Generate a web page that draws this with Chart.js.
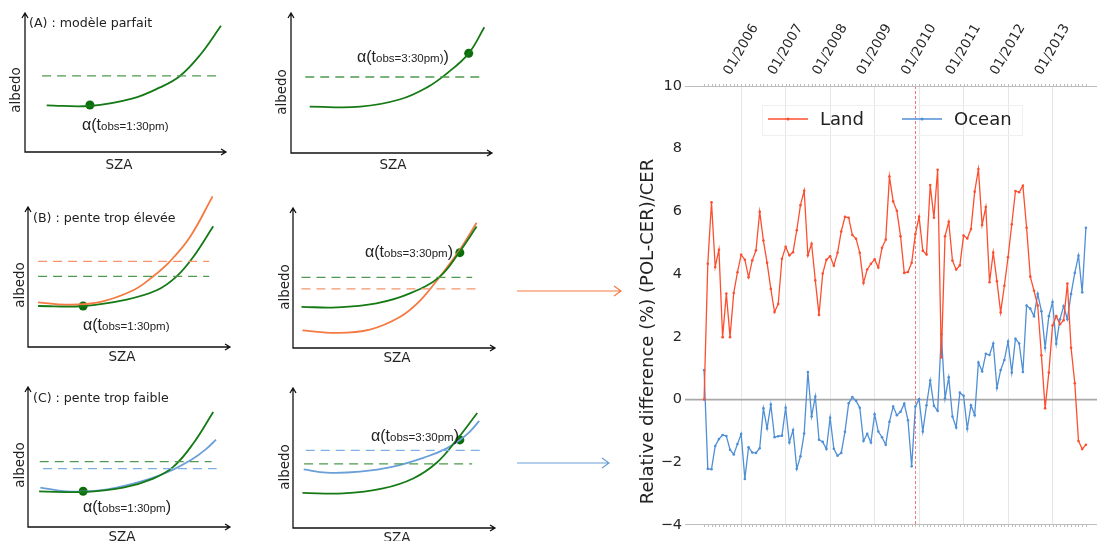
<!DOCTYPE html>
<html>
<head>
<meta charset="utf-8">
<script src="https://cdn.jsdelivr.net/npm/chart.js@4.4.0/dist/chart.umd.min.js"></script>
<style>
  body { margin:0; width:1097px; height:541px; overflow:hidden; background:#fff; position:relative; font-family:"DejaVu Sans", sans-serif; }
  canvas { position:absolute; }
  .t { position:absolute; white-space:nowrap; color:#222; line-height:1; }
  .ttl { font-size:12.6px; transform:translateY(-50%); }
  .ax { font-size:13.5px; transform:translate(-50%,-50%); }
  .rot { transform:translate(-50%,-50%) rotate(-90deg); }
  .al { font-family:"Liberation Sans", Arial, sans-serif; transform:translateY(-50%); }
  .al .b { font-size:16px; }
  .al .s { font-size:11.5px; }
  svg { position:absolute; left:0; top:0; }
</style>
</head>
<body>
<canvas id="pA1"></canvas><canvas id="pA2"></canvas>
<canvas id="pB1"></canvas><canvas id="pB2"></canvas>
<canvas id="pC1"></canvas><canvas id="pC2"></canvas>
<canvas id="main" width="480" height="541" style="left:630px;top:0"></canvas>

<div class="t ttl" style="left:29px;top:23px">(A) : modèle parfait</div>
<div class="t ttl" style="left:33px;top:218px">(B) : pente trop élevée</div>
<div class="t ttl" style="left:33px;top:398px">(C) : pente trop faible</div>

<div class="t ax rot" style="left:16px;top:90px">albedo</div>
<div class="t ax rot" style="left:282px;top:92px">albedo</div>
<div class="t ax rot" style="left:20px;top:285px">albedo</div>
<div class="t ax rot" style="left:285px;top:287px">albedo</div>
<div class="t ax rot" style="left:20px;top:465px">albedo</div>
<div class="t ax rot" style="left:285px;top:467px">albedo</div>

<div class="t ax" style="left:119px;top:165px">SZA</div>
<div class="t ax" style="left:393px;top:165px">SZA</div>
<div class="t ax" style="left:122px;top:357px">SZA</div>
<div class="t ax" style="left:397px;top:358px">SZA</div>
<div class="t ax" style="left:122px;top:537px">SZA</div>
<div class="t ax" style="left:397px;top:538px">SZA</div>

<div class="t al" style="left:82px;top:125px"><span class="b">α(t</span><span class="s">obs=1:30pm)</span></div>
<div class="t al" style="left:357px;top:57px"><span class="b">α(t</span><span class="s">obs=3:30pm)</span><span class="b">)</span></div>
<div class="t al" style="left:83px;top:325px"><span class="b">α(t</span><span class="s">obs=1:30pm)</span></div>
<div class="t al" style="left:365px;top:252px"><span class="b">α(t</span><span class="s">obs=3:30pm</span><span class="b">)</span></div>
<div class="t al" style="left:83px;top:507px"><span class="b">α(t</span><span class="s">obs=1:30pm</span><span class="b">)</span></div>
<div class="t al" style="left:371px;top:436px"><span class="b">α(t</span><span class="s">obs=3:30pm</span><span class="b">)</span></div>

<svg width="1097" height="541">
  <g fill="none" stroke-width="1.2">
    <path d="M517 291 H621 M614 286 L621 291 L614 296" stroke="#f47a42"/>
    <path d="M517 463 H609 M602 458 L609 463 L602 468" stroke="#6a9fd8"/>
  </g>
</svg>

<script>
// ---- main chart data (monthly, March 2005 -> October 2013) ----
var startYear = 2005, startMonth = 3;
var land = [0, 4.33, 6.29, 4.23, 4.78, 1.99, 3.38, 1.99, 3.40, 4.06,
  4.62, 4.46, 3.90, 4.44, 4.76, 5.99, 5.07, 4.36, 3.53, 2.79,
  3.05, 4.49, 4.87, 4.60, 4.70, 5.40, 6.20, 6.66, 4.60, 4.97,
  3.80, 2.70, 4.02, 4.46, 4.57, 4.27, 4.68, 5.36, 5.83, 5.80,
  5.25, 5.13, 4.68, 3.72, 4.15, 4.33, 4.47, 4.21, 4.84, 5.10,
  7.11, 6.32, 6.02, 5.21, 4.04, 4.07, 4.36, 5.28, 5.83, 4.75,
  4.63, 6.84, 5.80, 7.33, 1.34, 5.21, 5.67, 4.43, 4.15, 4.28,
  5.23, 5.14, 5.44, 6.63, 7.35, 5.57, 6.14, 3.74, 4.69, 3.77,
  2.78, 3.63, 4.54, 5.59, 6.65, 6.61, 6.82, 5.48, 3.92, 3.47,
  3.00, 1.41, -0.28, 0.86, 2.36, 2.66, 2.40, 2.53, 3.70, 1.65,
  0.52, -1.32, -1.58, -1.44];
var ocean = [0.94, -2.21, -2.22, -1.48, -1.26, -1.13, -1.16, -1.60, -1.75, -1.42,
  -1.10, -2.53, -1.52, -1.69, -1.70, -1.55, -0.28, -0.92, -0.16, -1.20,
  -1.17, -1.15, -0.26, -1.37, -0.97, -2.21, -1.81, -1.08, 0.88, -0.54,
  0.10, -1.28, -1.35, -1.58, -0.58, -1.57, -1.79, -1.70, -1.03, -0.12,
  0.08, -0.04, -0.26, -1.32, -1.09, -1.37, -0.47, -1.02, -1.20, -1.44,
  -0.71, -0.22, -0.50, -0.39, -0.13, -0.66, -2.13, -0.22, 0.01, -1.02,
  -0.18, 0.61, -0.20, -0.36, 2.08, 0.04, 0.71, -0.54, -0.89, 0.22,
  0.12, -0.93, -0.18, -0.50, 1.18, 0.90, 1.46, 1.42, 1.79, 0.37,
  0.94, 1.26, 1.85, 0.86, 1.94, 1.79, 0.88, 3.00, 2.90, 2.66,
  3.37, 2.82, 1.65, 2.66, 3.11, 1.78, 2.56, 2.98, 2.56, 3.37,
  4.04, 4.59, 3.42, 5.48];
var tickLabels = ['01/2006', '01/2007', '01/2008', '01/2009', '01/2010', '01/2011', '01/2012', '01/2013'];
var yTicks = [-4, -2, 0, 2, 4, 6, 8, 10];
var markerMonth = '12/2009';
var seriesNames = ['Land', 'Ocean'];
var yTitle = 'Relative difference (%) (POL-CER)/CER';

// ---- schematic panels: [SZA, albedo] in 0-100 axis units ----
var a1Green = [[10.8,33.6],[32.3,33.1],[53.7,38.6],[67.2,46.5],[77.1,54.7],[87.1,69.8],[97.5,90.8]];
var a1Mean = [[8.5,54.7],[97,54.7]];
var a1Dot = [[32.3,33.8]];
var a2Green = [[9.3,33.1],[34.5,33.1],[54.4,38.4],[67.7,46.9],[77.6,56.9],[88.4,71.2],[96.2,89.8]];
var a2Mean = [[7.1,54.3],[95.5,54.3]];
var a2Dot = [[88.4,71.2]];
var b1Green = [[5,29.3],[27.3,29.3],[48.8,33.9],[63.7,40.5],[73.6,50.5],[81.8,64.3],[91.7,86.2]];
var b1Orange = [[5,31.9],[19,30.3],[35.5,32.1],[52.1,40.5],[62,50.5],[70.3,61.2],[80.2,78.6],[91.4,107.6]];
var b1GreenMean = [[5,50.5],[89.7,50.5]];
var b1OrangeMean = [[5,61.2],[89.7,61.2]];
var b1Dot = [[27.3,29.3]];
var b2Green = [[4.2,29.4],[21.5,29],[41.3,31.9],[57.9,39],[72.7,51],[82.6,69],[90.9,86.8]];
var b2Orange = [[4.7,12.6],[21.5,10.8],[38,13.2],[52.9,22.2],[62.8,33.7],[72.7,51],[82.6,70.2],[90.9,89.4]];
var b2GreenMean = [[4.2,50.5],[88.7,50.5]];
var b2OrangeMean = [[4.2,42.3],[90.9,42.3]];
var b2Dot = [[82.6,68.1]];
var c1Green = [[5.5,25.5],[27.3,25],[47.1,28.1],[62,34.6],[71.9,42.9],[81.8,59.6],[91.7,82.1]];
var c1Blue = [[6.1,28.1],[19,25.5],[35.5,26.2],[52.1,31],[68.6,38.9],[81.8,48.9],[88.4,56],[93.1,62.4]];
var c1GreenMean = [[5.8,46.7],[90.9,46.7]];
var c1BlueMean = [[7.4,41.7],[93.4,41.7]];
var c1Dot = [[27.3,25.5]];
var c2Green = [[4.7,25.1],[24.8,24.7],[44.6,28.3],[59.5,35.4],[71.1,46.6],[81,62.9],[91.2,82.1]];
var c2Blue = [[5.3,41.9],[16.6,39.5],[33.1,40.2],[49.6,43.8],[66.1,50.9],[76.1,56.9],[82.6,62.9],[87.6,68.9],[92.2,76.5]];
var c2GreenMean = [[5.5,45.8],[88.7,45.8]];
var c2BlueMean = [[6.3,55.4],[92.6,55.4]];
var c2Dot = [[82.6,62.9]];

var GREEN = '#157a15', GREEN_D = '#4f9a4f', ORANGE = '#f47a42', ORANGE_D = '#f4956c', BLUE = '#6a9fd8', BLUE_D = '#7eaee2';
var LAND_C = '#fc4f30', OCEAN_C = '#4f8fd6';

Chart.defaults.font.family = '"DejaVu Sans", sans-serif';

function pts(a) { return a.map(function(p){ return {x:p[0], y:p[1]}; }); }
function curve(a, col) { return {data:pts(a), showLine:true, borderColor:col, borderWidth:1.8, pointRadius:0, tension:0.4, clip:false}; }
function mean(a, col) { return {data:pts(a), showLine:true, borderColor:col, borderWidth:1.3, borderDash:[9,6], pointRadius:0, clip:false}; }
function dot(a) { return {data:pts(a), pointRadius:4.5, pointBackgroundColor:'#0b6e0b', pointBorderWidth:0, clip:false}; }

var arrowAxes = {
  id: 'arrowAxes',
  beforeDatasetsDraw: function(c) {
    var ctx = c.ctx, sx = c.scales.x, sy = c.scales.y;
    var x0 = sx.getPixelForValue(0), x1 = sx.getPixelForValue(100);
    var y0 = sy.getPixelForValue(0), y1 = sy.getPixelForValue(100);
    ctx.save();
    ctx.strokeStyle = '#111'; ctx.lineWidth = 1.3;
    ctx.beginPath();
    ctx.moveTo(x0, y1); ctx.lineTo(x0, y0); ctx.lineTo(x1, y0);
    ctx.moveTo(x0 - 3, y1 + 5); ctx.lineTo(x0, y1); ctx.lineTo(x0 + 3, y1 + 5);
    ctx.moveTo(x1 - 5, y0 - 3); ctx.lineTo(x1, y0); ctx.lineTo(x1 - 5, y0 + 3);
    ctx.stroke();
    ctx.restore();
  }
};

function panel(id, x0, x1, yt, yb, sets) {
  var el = document.getElementById(id), pad = 20;
  el.width = x1 - x0 + 2 * pad; el.height = yb - yt + 2 * pad;
  el.style.left = (x0 - pad) + 'px'; el.style.top = (yt - pad) + 'px';
  new Chart(el, {
    type: 'scatter',
    data: { datasets: sets },
    options: {
      responsive: false, animation: false, events: [],
      layout: { padding: pad },
      plugins: { legend: {display:false}, tooltip: {enabled:false} },
      scales: {
        x: { type:'linear', min:0, max:100, display:false },
        y: { type:'linear', min:0, max:100, display:false }
      }
    },
    plugins: [arrowAxes]
  });
}

panel('pA1', 25, 226, 13, 152, [mean(a1Mean, GREEN_D), curve(a1Green, GREEN), dot(a1Dot)]);
panel('pA2', 291, 492, 13, 153, [mean(a2Mean, GREEN_D), curve(a2Green, GREEN), dot(a2Dot)]);
panel('pB1', 28, 230, 207, 347, [mean(b1OrangeMean, ORANGE_D), mean(b1GreenMean, GREEN_D), curve(b1Orange, ORANGE), curve(b1Green, GREEN), dot(b1Dot)]);
panel('pB2', 293, 495, 208, 348, [mean(b2GreenMean, GREEN_D), mean(b2OrangeMean, ORANGE_D), curve(b2Green, GREEN), curve(b2Orange, ORANGE), dot(b2Dot)]);
panel('pC1', 28, 230, 387, 527, [mean(c1GreenMean, GREEN_D), mean(c1BlueMean, BLUE_D), curve(c1Green, GREEN), curve(c1Blue, BLUE), dot(c1Dot)]);
panel('pC2', 293, 495, 388, 528, [mean(c2BlueMean, BLUE_D), mean(c2GreenMean, GREEN_D), curve(c2Green, GREEN), curve(c2Blue, BLUE), dot(c2Dot)]);

// ---- main chart ----
function monthIndex(label) {
  var p = label.split('/');
  return (parseInt(p[1], 10) - startYear) * 12 + parseInt(p[0], 10) - startMonth;
}
var yearIdx = tickLabels.map(monthIndex);
var n = land.length;
var xMin = -0.05 * (n - 1), xMax = (n - 1) * 1.05;

var frame = {
  id: 'frame',
  beforeDatasetsDraw: function(c) {
    var ctx = c.ctx, a = c.chartArea, sx = c.scales.x, sy = c.scales.y;
    ctx.save();
    // marker line
    var mx = Math.round(sx.getPixelForValue(monthIndex(markerMonth))) + 0.5;
    ctx.strokeStyle = '#f07878'; ctx.lineWidth = 1; ctx.setLineDash([3, 2]);
    ctx.beginPath(); ctx.moveTo(mx, a.top); ctx.lineTo(mx, a.bottom); ctx.stroke();
    ctx.setLineDash([]);
    // top and bottom spines with monthly minor ticks
    ctx.strokeStyle = '#bdbdbd'; ctx.lineWidth = 1;
    ctx.beginPath();
    ctx.moveTo(a.left, a.top + 0.5); ctx.lineTo(a.right, a.top + 0.5);
    ctx.moveTo(a.left, a.bottom - 0.5); ctx.lineTo(a.right, a.bottom - 0.5);
    for (var i = 0; i < n; i++) {
      var px = Math.round(sx.getPixelForValue(i)) + 0.5;
      ctx.moveTo(px, a.top - 2); ctx.lineTo(px, a.top + 0.5);
      ctx.moveTo(px, a.bottom - 0.5); ctx.lineTo(px, a.bottom + 2);
    }
    ctx.stroke();
    // zero line
    var zy = sy.getPixelForValue(0);
    ctx.strokeStyle = '#a8a8a8'; ctx.lineWidth = 1.8;
    ctx.beginPath(); ctx.moveTo(a.left, zy); ctx.lineTo(a.right, zy); ctx.stroke();
    ctx.restore();
  },
  afterDraw: function(c) {
    var ctx = c.ctx, L = 630, a = c.chartArea;
    ctx.save();
    // y axis title, sitting a little below the axis centre as in the original figure
    ctx.translate(18, (a.top + a.bottom) / 2 + 26);
    ctx.rotate(-Math.PI / 2);
    ctx.font = '18px "DejaVu Sans"'; ctx.fillStyle = '#222';
    ctx.textAlign = 'center'; ctx.textBaseline = 'middle';
    ctx.fillText(yTitle, 0, 0);
    ctx.restore();
  },
  afterDatasetsDraw: function(c) {
    var ctx = c.ctx, L = 630;
    ctx.save();
    ctx.strokeStyle = '#f0f0f0'; ctx.lineWidth = 1;
    ctx.strokeRect(762 - L + 0.5, 105.5, 260, 30);
    var items = [[768, LAND_C], [902, OCEAN_C]];
    ctx.font = '18px "DejaVu Sans"'; ctx.textBaseline = 'middle'; ctx.fillStyle = '#222';
    items.forEach(function(it, k) {
      var x = it[0] - L;
      ctx.strokeStyle = it[1]; ctx.fillStyle = it[1]; ctx.lineWidth = 1.3;
      ctx.beginPath(); ctx.moveTo(x, 119); ctx.lineTo(x + 40, 119); ctx.stroke();
      ctx.beginPath(); ctx.arc(x + 20, 119, 1.5, 0, Math.PI * 2); ctx.fill();
      ctx.fillStyle = '#222';
      ctx.fillText(seriesNames[k], x + 52, 120);
    });
    ctx.restore();
  }
};

function series(vals) { return vals.map(function(v, i){ return {x:i, y:v}; }); }

new Chart(document.getElementById('main'), {
  type: 'line',
  data: {
    datasets: [
      {label: seriesNames[0], data: series(land), borderColor: LAND_C, backgroundColor: LAND_C, borderWidth: 1.3, pointRadius: 1.3, pointBorderWidth: 0, tension: 0},
      {label: seriesNames[1], data: series(ocean), borderColor: OCEAN_C, backgroundColor: OCEAN_C, borderWidth: 1.3, pointRadius: 1.3, pointBorderWidth: 0, tension: 0}
    ]
  },
  options: {
    responsive: false, animation: false, events: [],
    layout: { padding: { left: 0, right: 5, top: 0, bottom: 16 } },
    plugins: { legend: {display:false}, tooltip: {enabled:false} },
    scales: {
      x: {
        type: 'linear', position: 'top', min: xMin, max: xMax,
        afterBuildTicks: function(s) { s.ticks = yearIdx.map(function(v){ return {value:v}; }); },
        afterFit: function(s) { s.height = 86; },
        ticks: {
          autoSkip: false, minRotation: 60, maxRotation: 60, labelOffset: 0, padding: 8,
          color: '#262626', font: { size: 13.5 },
          callback: function(v) { return tickLabels[yearIdx.indexOf(v)]; }
        },
        grid: { color: '#e6e6e6', drawTicks: false },
        border: { display: false }
      },
      y: {
        min: -4, max: 10,
        afterBuildTicks: function(s) { s.ticks = yTicks.map(function(v){ return {value:v}; }); },
        afterFit: function(s) { s.width = 55; },
        ticks: {
          color: '#262626', font: { size: 14.5 }, padding: 3,
          callback: function(v) { return v < 0 ? '\u2212' + (-v) : '' + v; }
        },
        grid: { display: false, drawTicks: false },
        border: { display: false }
      }
    }
  },
  plugins: [frame]
});
</script>
</body>
</html>
